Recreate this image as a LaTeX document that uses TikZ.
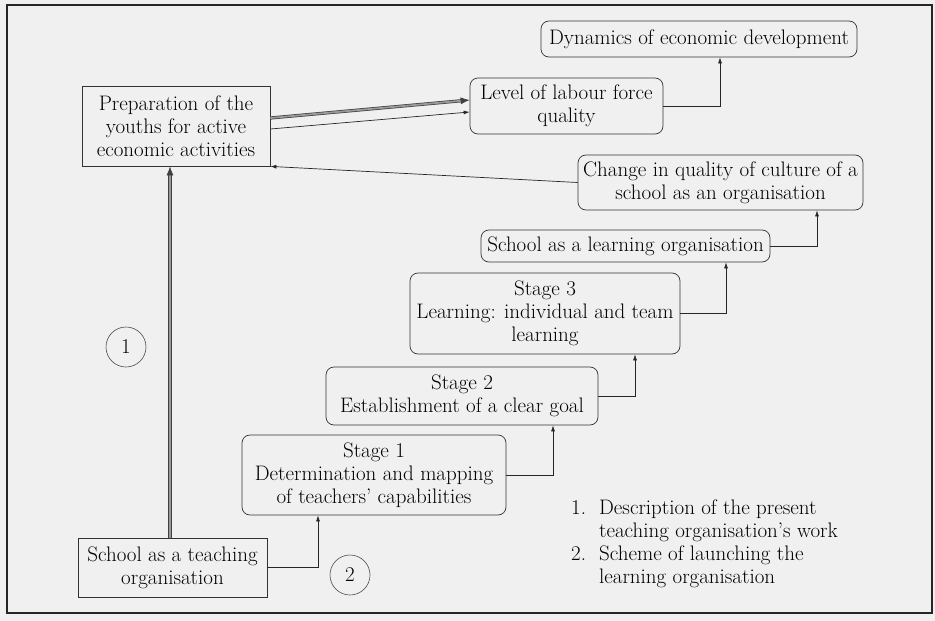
\documentclass[tikz,border=0pt]{standalone}
\usetikzlibrary{arrows.meta,calc}
\begin{document}
\begin{tikzpicture}[x=1pt,y=-1pt,
  every node/.style={font=\rmfamily\fontsize{21}{23}\selectfont, align=center, inner sep=0pt, text=black},
  rbox/.style={draw=black!80, line width=0.7pt, rounded corners=8pt},
  sbox/.style={draw=black!80, line width=0.8pt},
  arr/.style={draw=black!85, line width=0.7pt, -{Latex[length=6pt,width=4pt]}},
  dbl/.style={draw=black!75, line width=0.7pt, double=black!40, double distance=1.8pt, -{Latex[length=9pt,width=7pt]}},
  num/.style={circle, draw=black!70, line width=0.6pt, minimum size=40pt}]
\useasboundingbox (0,0) rectangle (935,621);
\fill[black!6] (0,0) rectangle (935,621);
\draw[line width=1.2pt, black!85] (7,5) rectangle (932,613);

% nodes
\node[sbox, minimum width=188pt, minimum height=80pt] (prep) at (176,126)
  {Preparation of the\\youths for active\\economic activities};
\node[rbox, minimum width=193pt, minimum height=56pt] (level) at (566.5,106)
  {Level of labour force\\quality};
\node[rbox, minimum width=316pt, minimum height=36pt] (dyn) at (699,39)
  {Dynamics of economic development};
\node[rbox, minimum width=285pt, minimum height=55pt] (change) at (720.5,182.5)
  {Change in quality of culture of a\\school as an organisation};
\node[rbox, minimum width=289pt, minimum height=32pt] (slearn) at (625.5,246)
  {School as a learning organisation};
\node[rbox, minimum width=270pt, minimum height=81pt] (st3) at (545,313.5)
  {Stage 3\\Learning: individual and team\\learning};
\node[rbox, minimum width=272pt, minimum height=58pt] (st2) at (462,396)
  {Stage 2\\Establishment of a clear goal};
\node[rbox, minimum width=264pt, minimum height=80pt] (st1) at (374,475)
  {Stage 1\\Determination and mapping\\of teachers' capabilities};
\node[sbox, minimum width=189pt, minimum height=59pt] (teach) at (172.5,567.5)
  {School as a teaching\\organisation};
\node[num] (n1) at (126,347) {1};
\node[num] (n2) at (350,575) {2};
\node[anchor=north west, align=left] (legend) at (571,498)
  {\begin{tabular}{@{}l@{\hspace{13pt}}l@{}}
   1. & Description of the present\\
      & teaching organisation's work\\
   2. & Scheme of launching the\\
      & learning organisation
   \end{tabular}};

% connectors
\draw[dbl] (teach.north -| 170,0) -- (prep.south -| 170,0);
\draw[dbl] ([yshift=8pt]prep.east) -- ([yshift=6pt]level.west);
\draw[arr] ([yshift=-3pt]prep.east) -- ([yshift=-6pt]level.west);
\draw[arr] (level.east) -| ([xshift=21pt]dyn.south);
\draw[arr] (change.west) -- (prep.south east);
\draw[arr] (slearn.east) -| ([xshift=96.5pt]change.south);
\draw[arr] (st3.east) -| ([xshift=100.5pt]slearn.south);
\draw[arr] (st2.east) -| ([xshift=90pt]st3.south);
\draw[arr] (st1.east) -| ([xshift=91pt]st2.south);
\draw[arr] (teach.east) -| ([xshift=-56pt]st1.south);
\end{tikzpicture}
\end{document}
